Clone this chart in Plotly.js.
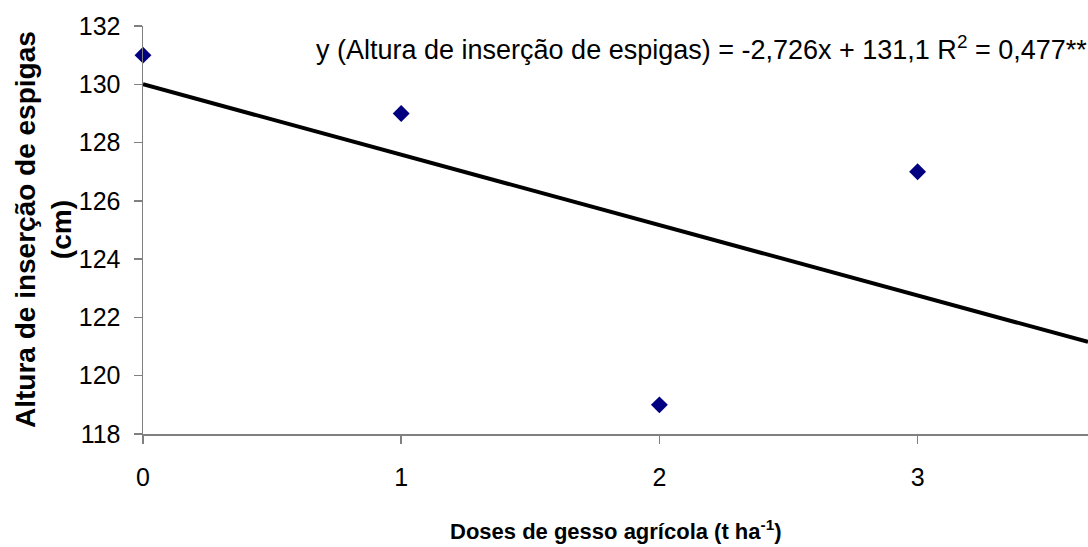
<!DOCTYPE html>
<html>
<head>
<meta charset="utf-8">
<script src="https://cdn.plot.ly/plotly-3.0.1.min.js"></script>
<style>html,body{margin:0;padding:0;background:#fff}#chart{width:1088px;height:547px}</style>
</head>
<body>
<div id="chart"></div>
<script>
// Observed data
const doses = [0, 1, 2, 3];
const altura = [131, 129, 119, 127];
// Trend line as drawn in the figure (endpoints)
const trendX = [0, 3.66];
const trendY = [130, 121.16];
const xTicks = [0, 1, 2, 3];
const yTicks = [118, 120, 122, 124, 126, 128, 130, 132];
const equationText = 'y (Altura de inserção de espigas) = -2,726x + 131,1 R<sup>2</sup> = 0,477**';
const yTitle = '<b>Altura de inserção de espigas</b><br><b>(cm)</b>';
const xTitle = '<b>Doses de gesso agrícola (t ha<sup>-1</sup>)</b>';

const font = 'Liberation Sans, Arial, sans-serif';

const traces = [
  {x: trendX, y: trendY, mode: 'lines', line: {color: '#000000', width: 4}, hoverinfo: 'skip'},
  {x: doses, y: altura, mode: 'markers', marker: {symbol: 'diamond', color: '#000080', size: 13}, cliponaxis: false}
];

const layout = {
  width: 1088, height: 547,
  margin: {l: 143, r: 0, t: 26, b: 113},
  paper_bgcolor: '#ffffff', plot_bgcolor: '#ffffff',
  showlegend: false,
  font: {family: font, color: '#000000', size: 24},
  xaxis: {
    range: [0, 3.66], tickvals: xTicks, ticktext: xTicks.map(String),
    showgrid: false, zeroline: false, showline: true, linecolor: '#808080', linewidth: 1.5,
    ticks: 'outside', ticklen: 8, tickcolor: '#808080', tickwidth: 1.5, ticklabelstandoff: 12,
    tickfont: {family: font, size: 25}, fixedrange: true
  },
  yaxis: {
    range: [118, 132], tickvals: yTicks, ticktext: yTicks.map(String),
    showgrid: false, zeroline: false, showline: true, linecolor: '#808080', linewidth: 1.5,
    ticks: 'outside', ticklen: 8, tickcolor: '#808080', tickwidth: 1.5, ticklabelstandoff: 8,
    tickfont: {family: font, size: 25}, fixedrange: true
  },
  annotations: [
    {text: equationText, xref: 'paper', yref: 'paper', x: 0.181, y: 0.945, xanchor: 'left', yanchor: 'middle',
     showarrow: false, font: {family: font, size: 27}},
    {text: yTitle, xref: 'paper', yref: 'paper', x: 0, y: 0.5, xanchor: 'center', yanchor: 'middle',
     xshift: -100, textangle: -90, showarrow: false, font: {family: font, size: 28}},
    {text: xTitle, xref: 'paper', yref: 'paper', x: 0.5, y: 0, xanchor: 'center', yanchor: 'middle',
     yshift: -96, showarrow: false, font: {family: font, size: 22}}
  ]
};

Plotly.newPlot('chart', traces, layout, {displayModeBar: false, staticPlot: true});
</script>
</body>
</html>
